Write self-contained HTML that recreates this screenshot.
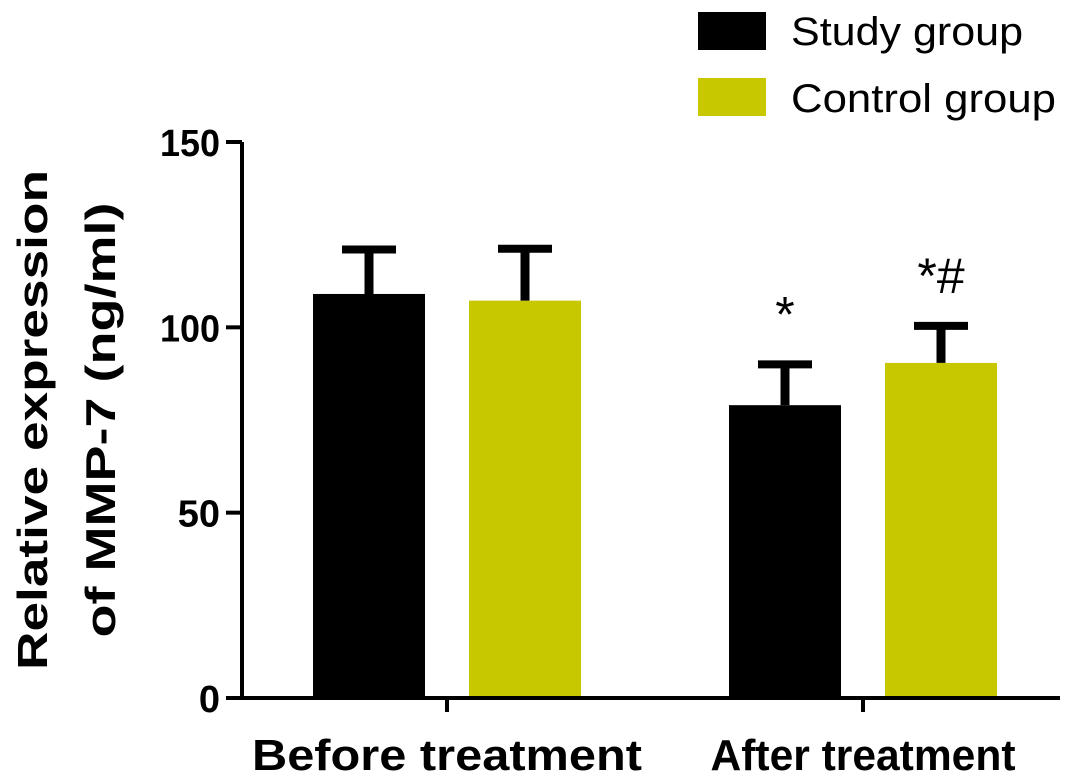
<!DOCTYPE html>
<html><head><meta charset="utf-8"><style>
html,body{margin:0;padding:0;background:#fff;}
svg{display:block;font-family:"Liberation Sans",Arial,sans-serif;}
</style></head><body>
<svg id="chart" width="1087" height="778" viewBox="0 0 1087 778" xmlns="http://www.w3.org/2000/svg">
<g>
<rect x="698" y="12" width="68" height="38" fill="#000"/>
<text x="791" y="45" font-size="40" textLength="232" lengthAdjust="spacingAndGlyphs" fill="#000">Study group</text>
<rect x="698" y="78" width="68" height="38" fill="#c8c800"/>
<text x="791" y="112" font-size="40" textLength="265" lengthAdjust="spacingAndGlyphs" fill="#000">Control group</text>
</g>
<g transform="translate(0,420) rotate(-90)">
<text x="0" y="47" text-anchor="middle" font-size="42" font-weight="bold" textLength="500" lengthAdjust="spacingAndGlyphs">Relative expression</text>
<text x="0" y="115" text-anchor="middle" font-size="42" font-weight="bold" textLength="435" lengthAdjust="spacingAndGlyphs">of MMP-7 (ng/ml)</text>
</g>
<g id="plot"></g>
</svg>
<script>
const categories = ["Before treatment", "After treatment"];
const studyValues = [109, 79];
const studyErr = [12, 11];
const controlValues = [107.2, 90.4];
const controlErr = [14, 10];
const yTicks = [0, 50, 100, 150];
const annotations = [["", ""], ["*", "*#"]];

const NS = "http://www.w3.org/2000/svg";
const plot = document.getElementById("plot");
const y0 = 698, yTop = 142, yMax = 150;
const yScale = v => y0 - (v / yMax) * (y0 - yTop);
const axisX = 242;
const catCenters = [447, 863];
const labelLens = [390, 305];
const barW = 112, gap = 44;
function mk(tag, attrs) { const e = document.createElementNS(NS, tag); for (const k in attrs) e.setAttribute(k, attrs[k]); plot.appendChild(e); return e; }

const series = [[studyValues, studyErr, "#000", "study"], [controlValues, controlErr, "#c8c800", "control"]];
categories.forEach((c, i) => {
  series.forEach((s, j) => {
    const x = catCenters[i] + (j === 0 ? -gap / 2 - barW : gap / 2);
    const v = s[0][i], e = s[1][i];
    const r = mk("rect", { x: x, y: yScale(v), width: barW, height: y0 - yScale(v), fill: s[2] });
    
    
    const cx = x + barW / 2, ty = yScale(v + e);
    const st = mk("line", { x1: cx, x2: cx, y1: yScale(v), y2: ty, stroke: "#000", "stroke-width": 9 });
    
    
    const cap = mk("line", { x1: cx - 27, x2: cx + 27, y1: ty, y2: ty, stroke: "#000", "stroke-width": 8 });
    
    
    const a = annotations[i][j];
    if (a) {
      const t = mk("text", { x: cx, y: ty - 33, "text-anchor": "middle", "font-size": 50 });
      t.textContent = a;
      
      
    }
  });
  const tk = mk("line", { x1: catCenters[i], x2: catCenters[i], y1: y0, y2: y0 + 14, stroke: "#000", "stroke-width": 4 });
  
  
  const lb = mk("text", { x: catCenters[i], y: 770, "text-anchor": "middle", "font-size": 44, "font-weight": "bold", textLength: labelLens[i], lengthAdjust: "spacingAndGlyphs" });
  lb.textContent = c;
  
  
});
const ya = mk("line", { x1: axisX, x2: axisX, y1: yTop, y2: y0 + 2, stroke: "#000", "stroke-width": 4 });


const xa = mk("line", { x1: axisX - 2, x2: 1060, y1: y0, y2: y0, stroke: "#000", "stroke-width": 4 });


yTicks.forEach(v => {
  const l = mk("line", { x1: axisX - 16, x2: axisX, y1: yScale(v), y2: yScale(v), stroke: "#000", "stroke-width": 4 });
  
  
  const attrs = { x: 220, y: yScale(v) + 14, "text-anchor": "end", "font-size": 38, "font-weight": "bold" };
  if (String(v).length === 3) { attrs.textLength = 60; attrs.lengthAdjust = "spacingAndGlyphs"; }
  const t = mk("text", attrs);
  t.textContent = v;
  
  
});
</script>
</body></html>
